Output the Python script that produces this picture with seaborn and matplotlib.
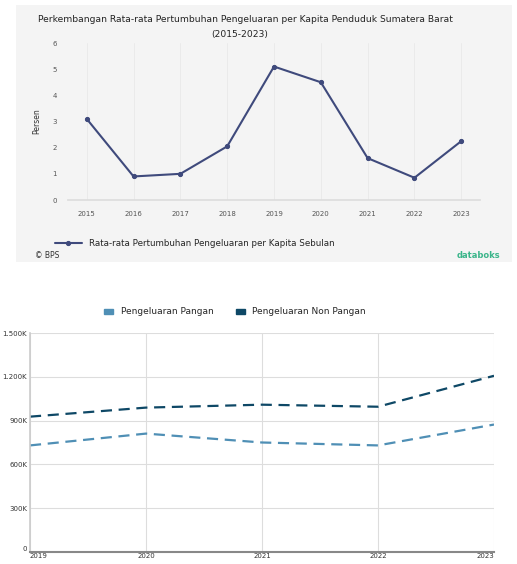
import numpy as np
import pandas as pd
import matplotlib
matplotlib.use("Agg")
import matplotlib.pyplot as plt
from matplotlib.patches import Rectangle, Patch
from matplotlib.ticker import FuncFormatter
import seaborn as sns

# top chart data
years_top = ["2015", "2016", "2017", "2018", "2019", "2020", "2021", "2022", "2023"]
growth = [3.1, 0.9, 1.0, 2.05, 5.1, 4.5, 1.6, 0.85, 2.25]

# bottom chart data
years_bot = [2019, 2020, 2021, 2022, 2023]
pangan = [730000, 811000, 750000, 730000, 873000]
non_pangan = [927000, 989000, 1009000, 995000, 1207000]
y_ticks_bot = [0, 300000, 600000, 900000, 1200000, 1500000]

sns.set_theme(style="white")
plt.rcParams['font.family'] = ['DejaVu Sans']

W, H = 517, 564
fig = plt.figure(figsize=(W / 100, H / 100), dpi=100)
fig.patch.set_facecolor("white")

def fx(px):
    return px / W

def fy(py):
    return 1 - py / H

# background panel of top chart
fig.patches.append(Rectangle((fx(16), fy(262)), fx(496), (262 - 5) / H,
                             transform=fig.transFigure, facecolor="#f4f4f4",
                             edgecolor="none", zorder=-10))

fig.text(fx(245), fy(20), "Perkembangan Rata-rata Pertumbuhan Pengeluaran per Kapita Penduduk Sumatera Barat",
         ha="center", va="center", fontsize=6.6, color="#222222")
fig.text(fx(240), fy(34), "(2015-2023)", ha="center", va="center", fontsize=6.6, color="#222222")

ax1 = fig.add_axes([fx(68), fy(200), fx(480 - 68), (200 - 43) / H])
ax1.set_facecolor("#f4f4f4")
df_top = pd.DataFrame({"x": np.arange(len(years_top)), "v": growth})
sns.lineplot(data=df_top, x="x", y="v", ax=ax1, color="#3f4a7c", linewidth=1.5,
             marker="o", markersize=3, markeredgecolor="#3f4a7c",
             label="Rata-rata Pertumbuhan Pengeluaran per Kapita Sebulan")
ax1.set_xlim(-0.4, 8.4)
ax1.set_ylim(0, 6)
ax1.set_xticks(np.arange(len(years_top)))
ax1.set_xticklabels(years_top)
ax1.set_yticks(range(0, 7))
ax1.tick_params(axis="both", labelsize=5, colors="#555555", length=0, pad=8)
ax1.set_xlabel("")
ax1.set_ylabel("Persen", fontsize=5.5, color="#333333", labelpad=8)
for s in ["top", "right", "left"]:
    ax1.spines[s].set_visible(False)
ax1.spines["bottom"].set_color("#dddddd")
ax1.xaxis.grid(True, color="#e9e9e9", linewidth=0.6)
ax1.yaxis.grid(False)
ax1.legend(loc="upper left", bbox_to_anchor=(-0.05, -0.2), frameon=False, fontsize=6.3,
           handlelength=3)
fig.text(fx(35), fy(256), "© BPS", ha="left", va="center", fontsize=5.5, color="#333333")
fig.text(fx(500), fy(256), "databoks", ha="right", va="center", fontsize=6,
         color="#3bb58a", fontweight="bold")

# bottom chart
ax2 = fig.add_axes([fx(30), fy(552), fx(494 - 30), (552 - 333) / H])
df_bot = pd.DataFrame({
    "tahun": years_bot * 2,
    "nilai": pangan + non_pangan,
    "jenis": ["Pengeluaran Pangan"] * len(years_bot) + ["Pengeluaran Non Pangan"] * len(years_bot),
})
palette = {"Pengeluaran Pangan": "#4f8fb5", "Pengeluaran Non Pangan": "#0e4866"}
sns.lineplot(data=df_bot, x="tahun", y="nilai", hue="jenis", palette=palette, ax=ax2,
             linewidth=1.6, dashes=False, legend=False)
for ln in ax2.get_lines():
    ln.set_linestyle((0, (5, 3)))
ax2.set_xlim(2019, 2023)
ax2.set_ylim(0, 1500000)
ax2.set_xticks(years_bot)
ax2.set_yticks(y_ticks_bot)
ax2.yaxis.set_major_formatter(FuncFormatter(
    lambda v, p: "0" if v == 0 else f"{int(v / 1000):,}K".replace(",", ".")))
ax2.tick_params(axis="y", labelsize=5, colors="#333333", length=0, pad=2)
ax2.tick_params(axis="x", labelsize=5, colors="#333333", length=0, pad=1)
ax2.set_xlabel("")
ax2.set_ylabel("")
ax2.grid(True, color="#dddddd", linewidth=0.8)
for s in ["top", "right"]:
    ax2.spines[s].set_visible(False)
ax2.spines["left"].set_color("#cccccc")
ax2.spines["left"].set_linewidth(1.2)
ax2.spines["bottom"].set_color("#888888")
ax2.spines["bottom"].set_linewidth(1.5)
fig.canvas.draw()
ax2.get_yticklabels()[0].set_verticalalignment("bottom")
xl = ax2.get_xticklabels()
xl[0].set_horizontalalignment("left")
xl[-1].set_horizontalalignment("right")

handles = [Patch(color=palette[k]) for k in palette]
fig.legend(handles, list(palette.keys()), loc="center", bbox_to_anchor=(fx(235), fy(312)),
           ncol=2, frameon=False, fontsize=6.5, handlelength=1.0, handleheight=0.5,
           columnspacing=2.5)

fig.savefig("out.png", dpi=100)
